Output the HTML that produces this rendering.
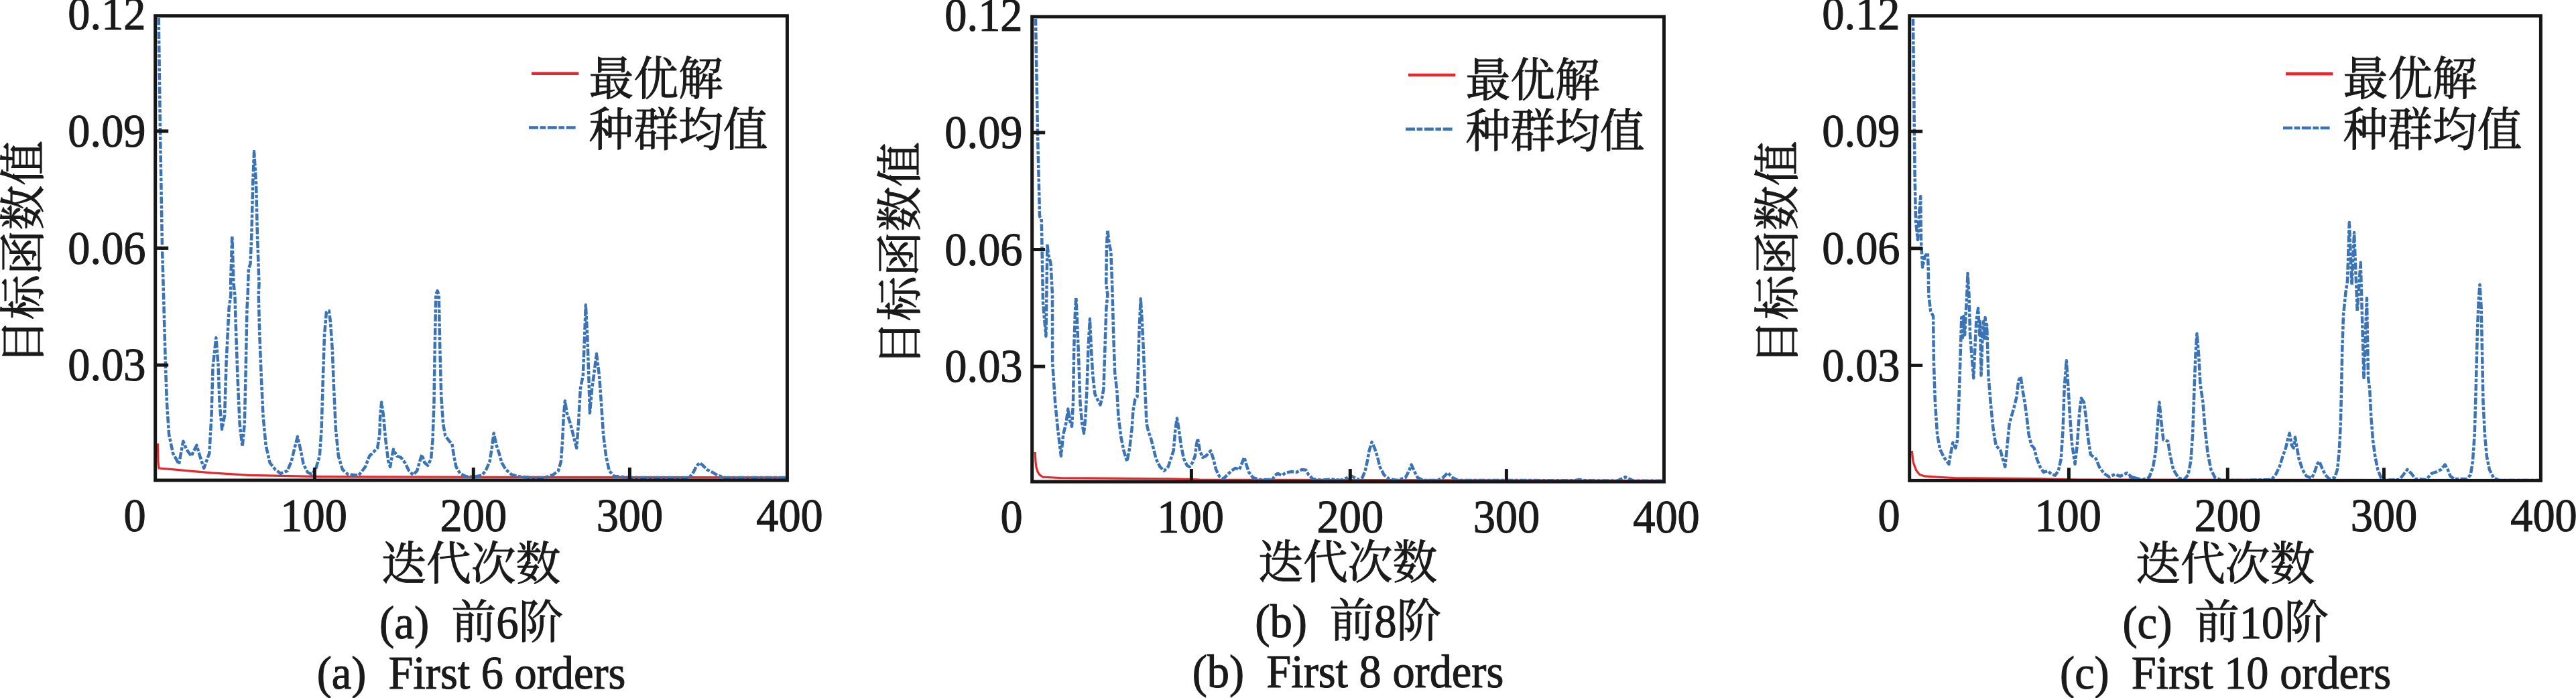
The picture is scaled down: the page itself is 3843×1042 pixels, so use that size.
<!DOCTYPE html>
<html lang="zh"><head><meta charset="utf-8"><title>迭代曲线</title>
<style>
html,body{margin:0;padding:0;background:#fff;}
body{width:3843px;height:1042px;overflow:hidden;}
svg{display:block;}
text{font-family:"Liberation Serif", "Noto Serif CJK SC", serif;fill:#1a1a1a;stroke:#1a1a1a;stroke-width:1.1px;stroke-linejoin:round;}
.t{font-size:65px;}
.c{font-size:65px;}
.fr{fill:none;stroke:#161616;stroke-width:5;}
.tk{stroke:#161616;stroke-width:5;}
.red{fill:none;stroke:#e5282c;stroke-width:3.2;stroke-linejoin:round;}
.blue{fill:none;stroke:#3a74b6;stroke-width:4.5;stroke-linejoin:round;stroke-dasharray:10.5 2.5 5 2.5;}
</style></head><body>
<svg width="3843" height="1042" viewBox="0 0 3843 1042">
<rect width="3843" height="1042" fill="#fff"/>

<g transform="translate(0.0,0.0)">
<path class="red" d="M235.3 662.0 L236.0 690.0 L237.0 699.0 L270.0 701.8 L315.0 705.8 L371.0 709.3 L432.0 710.7 L468.0 711.3 L553.0 711.9 L750.0 712.3 L1172.0 712.8"/>
<path class="blue" d="M236.7 27.0 L239.0 195.0 L242.0 370.0 L244.0 440.0 L246.9 544.3 L248.9 600.5 L252.1 648.7 L258.1 676.8 L266.9 692.8 L273.3 658.7 L278.2 670.8 L285.4 680.8 L293.4 664.7 L298.2 680.8 L304.2 698.9 L312.3 676.8 L315.5 620.6 L317.5 548.4 L322.3 504.2 L325.5 544.3 L327.5 600.5 L331.1 640.7 L335.1 620.6 L337.6 540.3 L341.6 460.1 L344.4 440.0 L344.1 423.6 L346.3 352.1 L348.5 423.6 L350.4 440.0 L351.6 480.1 L354.4 560.4 L357.6 632.6 L361.6 666.8 L364.8 632.6 L366.5 560.4 L368.5 460.1 L369.7 440.0 L370.1 423.6 L370.9 401.3 L373.5 393.8 L375.4 349.1 L377.2 274.5 L379.1 226.1 L382.1 274.5 L383.9 349.1 L386.5 423.6 L385.7 440.0 L387.3 500.2 L389.7 560.4 L392.5 620.6 L396.6 664.7 L402.6 690.8 L410.6 700.9 L418.6 706.9 L428.7 702.9 L434.7 688.8 L439.5 668.8 L443.9 651.9 L448.7 672.8 L452.7 692.8 L458.8 704.9 L464.8 708.1 L470.8 700.9 L476.8 680.8 L479.6 640.7 L482.0 560.4 L484.0 500.2 L486.9 466.1 L490.9 464.1 L492.9 480.1 L495.7 520.3 L498.1 580.5 L500.9 640.7 L504.9 680.8 L510.9 700.9 L519.0 708.1 L535.0 709.7 L545.0 696.9 L551.1 680.8 L557.1 674.8 L563.1 668.8 L566.3 648.7 L567.2 620.6 L569.2 600.5 L572.0 620.6 L575.3 656.7 L579.3 688.8 L582.1 696.9 L584.9 680.8 L586.9 670.8 L592.1 680.8 L598.1 682.8 L604.1 690.8 L610.2 702.9 L616.2 708.9 L622.2 702.9 L626.2 688.8 L629.4 678.8 L633.4 690.8 L638.3 694.8 L643.1 684.8 L645.5 656.7 L647.5 600.5 L648.7 520.3 L650.3 440.0 L652.5 434.0 L654.7 440.0 L656.3 520.3 L658.3 592.5 L661.1 632.6 L664.3 650.7 L670.4 658.7 L674.4 662.7 L677.2 680.8 L680.4 696.9 L686.4 706.9 L694.4 710.9 L706.5 712.1 L718.5 709.7 L724.5 702.9 L730.6 688.8 L733.8 668.8 L736.6 646.7 L740.6 664.7 L744.6 676.8 L748.6 690.8 L754.6 700.9 L762.7 708.1 L772.7 711.3 L792.8 712.9 L812.8 712.9 L824.9 708.9 L832.9 702.9 L836.9 688.8 L838.9 660.7 L840.9 620.6 L842.9 598.5 L845.7 616.6 L851.0 632.6 L857.0 656.7 L860.2 668.8 L863.0 632.6 L865.8 580.5 L869.8 560.4 L872.2 500.2 L873.8 455.3 L876.2 500.2 L878.3 560.4 L879.9 616.6 L883.1 580.5 L885.9 560.4 L889.9 528.3 L894.0 560.4 L896.9 600.5 L900.1 648.7 L904.1 680.8 L908.9 702.9 L916.1 710.9 L940.2 712.9 L1028.5 712.9 L1034.5 704.9 L1038.5 696.9 L1043.7 690.8 L1048.6 694.8 L1054.6 700.9 L1062.6 704.9 L1070.6 709.7 L1080.7 712.9 L1171.0 712.9"/>
<rect class="fr" x="231.7" y="23.7" width="942.7" height="693.3"/>
<text transform="translate(217.5,44.4) scale(0.962,1)" font-size="69" text-anchor="end" xml:space="preserve">0.12</text>
<line class="tk" x1="231.7" y1="195.8" x2="251.2" y2="195.8"/>
<text transform="translate(217.5,219.0) scale(0.962,1)" font-size="69" text-anchor="end" xml:space="preserve">0.09</text>
<line class="tk" x1="231.7" y1="370.4" x2="251.2" y2="370.4"/>
<text transform="translate(217.5,393.6) scale(0.962,1)" font-size="69" text-anchor="end" xml:space="preserve">0.06</text>
<line class="tk" x1="231.7" y1="545.0" x2="251.2" y2="545.0"/>
<text transform="translate(217.5,568.2) scale(0.962,1)" font-size="69" text-anchor="end" xml:space="preserve">0.03</text>
<text transform="translate(201.0,792.6) scale(0.962,1)" font-size="69" text-anchor="middle" xml:space="preserve">0</text>
<line class="tk" x1="469.4" y1="717.0" x2="469.4" y2="698.0"/>
<text transform="translate(468.1,792.6) scale(0.962,1)" font-size="69" text-anchor="middle" xml:space="preserve">100</text>
<line class="tk" x1="706.3" y1="717.0" x2="706.3" y2="698.0"/>
<text transform="translate(706.3,792.6) scale(0.962,1)" font-size="69" text-anchor="middle" xml:space="preserve">200</text>
<line class="tk" x1="939.4" y1="717.0" x2="939.4" y2="698.0"/>
<text transform="translate(939.4,792.6) scale(0.962,1)" font-size="69" text-anchor="middle" xml:space="preserve">300</text>
<text transform="translate(1178.0,792.6) scale(0.962,1)" font-size="69" text-anchor="middle" xml:space="preserve">400</text>
<text transform="translate(59.0,376.9) rotate(-90) scale(0.968,1)" font-size="69" text-anchor="middle" xml:space="preserve">目标函数值</text>
<text transform="translate(702.8,866.2) scale(0.968,1)" font-size="69" text-anchor="middle" xml:space="preserve">迭代次数</text>
<text transform="translate(703.3,952.8) scale(0.968,1)" font-size="69" text-anchor="middle" xml:space="preserve">(a)  前6阶</text>
<text transform="translate(703.0,1027.9) scale(0.962,1)" font-size="69" text-anchor="middle" xml:space="preserve">(a)  First 6 orders</text>
<line x1="793" y1="109.8" x2="863.3" y2="109.8" stroke="#e5282c" stroke-width="4.5"/>
<line x1="789" y1="190.6" x2="860" y2="190.6" stroke="#3a74b6" stroke-width="4.5" stroke-dasharray="14 2.6 8.6 2.6"/>
<text transform="translate(878.5,141.5) scale(0.968,1)" font-size="69" text-anchor="start" xml:space="preserve">最优解</text>
<text transform="translate(878.5,218.0) scale(0.968,1)" font-size="69" text-anchor="start" xml:space="preserve">种群均值</text>
</g>
<g transform="translate(1308.0,2.1)">
<path class="red" d="M236.2 672.9 L237.0 687.9 L238.1 695.9 L240.0 701.9 L242.6 706.3 L247.8 710.1 L273.6 711.4 L351.0 712.1 L441.0 712.7 L482.0 713.9 L1171.0 715.4"/>
<path class="blue" d="M237.0 25.9 L240.0 197.9 L242.5 297.9 L243.0 320.9 L245.6 323.9 L246.0 337.9 L248.0 449.9 L252.4 499.9 L253.5 427.9 L254.4 362.4 L256.0 377.9 L259.5 390.9 L262.0 437.9 L262.1 538.2 L266.1 598.4 L270.1 638.6 L274.9 678.7 L278.2 646.6 L282.2 630.5 L285.4 608.5 L288.2 626.5 L291.0 634.6 L293.0 598.4 L294.2 518.2 L296.2 458.0 L297.4 441.9 L299.0 478.0 L301.4 538.2 L303.4 598.4 L306.3 630.5 L309.1 644.6 L311.5 618.5 L313.5 578.4 L315.5 518.2 L317.9 474.0 L319.9 518.2 L322.3 558.3 L325.5 586.4 L330.3 596.4 L333.5 602.4 L336.4 590.4 L338.4 578.4 L340.4 518.2 L342.4 458.0 L344.4 437.9 L342.2 421.5 L342.9 365.6 L344.4 341.4 L346.7 361.9 L349.3 373.1 L351.1 421.5 L351.6 437.9 L353.2 498.1 L355.2 554.3 L358.4 582.4 L360.4 618.5 L364.4 650.6 L368.5 670.7 L373.3 686.7 L377.3 666.7 L380.5 638.6 L382.5 610.5 L385.3 594.4 L388.5 590.4 L389.7 558.3 L391.3 498.1 L393.7 443.9 L395.8 478.0 L397.8 518.2 L400.2 578.4 L402.6 630.5 L405.4 642.6 L408.6 650.6 L412.6 666.7 L416.6 682.7 L422.6 694.8 L428.7 700.8 L434.7 694.8 L438.7 682.7 L442.7 670.7 L445.5 638.6 L447.9 622.5 L450.7 638.6 L453.9 662.6 L458.0 682.7 L462.8 692.7 L466.8 694.8 L470.8 688.7 L474.8 678.7 L476.8 662.6 L478.8 652.6 L482.0 670.7 L486.1 680.7 L490.9 678.7 L494.9 674.7 L498.1 670.7 L502.1 682.7 L506.1 698.8 L510.9 708.8 L517.0 712.8 L523.0 706.8 L529.0 700.8 L535.0 696.8 L541.0 698.8 L545.0 688.7 L548.3 680.7 L551.1 690.7 L555.1 702.8 L561.1 710.8 L571.1 714.0 L590.1 714.0 L594.1 707.6 L598.1 704.8 L604.1 707.6 L610.2 703.6 L618.2 702.0 L626.2 702.8 L634.2 698.8 L640.3 699.6 L644.3 706.8 L650.3 712.8 L664.3 714.8 L676.4 713.2 L692.4 714.8 L702.5 710.8 L706.5 707.6 L712.5 710.8 L718.5 714.0 L724.5 710.8 L728.6 700.8 L731.8 686.7 L734.6 670.7 L738.6 657.8 L742.6 666.7 L746.6 678.7 L750.6 694.8 L756.7 706.8 L764.7 713.2 L776.7 714.8 L788.8 710.8 L794.0 700.8 L797.6 691.5 L801.6 700.8 L806.8 710.8 L814.8 714.8 L836.9 714.8 L844.9 710.8 L851.8 703.6 L859.0 710.8 L867.0 714.8 L920.0 714.8 L1040.5 715.2 L1048.6 714.0 L1056.6 715.2 L1104.7 715.6 L1110.8 712.8 L1116.8 710.0 L1122.8 712.8 L1128.8 715.6 L1171.0 715.6"/>
<rect class="fr" x="231.7" y="22.8" width="942.7" height="694.2"/>
<text transform="translate(217.5,43.5) scale(0.962,1)" font-size="69" text-anchor="end" xml:space="preserve">0.12</text>
<line class="tk" x1="231.7" y1="195.8" x2="251.2" y2="195.8"/>
<text transform="translate(217.5,219.0) scale(0.962,1)" font-size="69" text-anchor="end" xml:space="preserve">0.09</text>
<line class="tk" x1="231.7" y1="370.4" x2="251.2" y2="370.4"/>
<text transform="translate(217.5,393.6) scale(0.962,1)" font-size="69" text-anchor="end" xml:space="preserve">0.06</text>
<line class="tk" x1="231.7" y1="545.0" x2="251.2" y2="545.0"/>
<text transform="translate(217.5,568.2) scale(0.962,1)" font-size="69" text-anchor="end" xml:space="preserve">0.03</text>
<text transform="translate(201.0,792.6) scale(0.962,1)" font-size="69" text-anchor="middle" xml:space="preserve">0</text>
<line class="tk" x1="469.4" y1="717.0" x2="469.4" y2="698.0"/>
<text transform="translate(468.1,792.6) scale(0.962,1)" font-size="69" text-anchor="middle" xml:space="preserve">100</text>
<line class="tk" x1="706.3" y1="717.0" x2="706.3" y2="698.0"/>
<text transform="translate(706.3,792.6) scale(0.962,1)" font-size="69" text-anchor="middle" xml:space="preserve">200</text>
<line class="tk" x1="939.4" y1="717.0" x2="939.4" y2="698.0"/>
<text transform="translate(939.4,792.6) scale(0.962,1)" font-size="69" text-anchor="middle" xml:space="preserve">300</text>
<text transform="translate(1178.0,792.6) scale(0.962,1)" font-size="69" text-anchor="middle" xml:space="preserve">400</text>
<text transform="translate(59.0,376.9) rotate(-90) scale(0.968,1)" font-size="69" text-anchor="middle" xml:space="preserve">目标函数值</text>
<text transform="translate(702.8,862.3) scale(0.968,1)" font-size="69" text-anchor="middle" xml:space="preserve">迭代次数</text>
<text transform="translate(703.3,948.9) scale(0.968,1)" font-size="69" text-anchor="middle" xml:space="preserve">(b)  前8阶</text>
<text transform="translate(703.0,1024.0) scale(0.962,1)" font-size="69" text-anchor="middle" xml:space="preserve">(b)  First 8 orders</text>
<line x1="793" y1="109.8" x2="863.3" y2="109.8" stroke="#e5282c" stroke-width="4.5"/>
<line x1="789" y1="190.6" x2="860" y2="190.6" stroke="#3a74b6" stroke-width="4.5" stroke-dasharray="14 2.6 8.6 2.6"/>
<text transform="translate(878.5,141.5) scale(0.968,1)" font-size="69" text-anchor="start" xml:space="preserve">最优解</text>
<text transform="translate(878.5,218.0) scale(0.968,1)" font-size="69" text-anchor="start" xml:space="preserve">种群均值</text>
</g>
<g transform="translate(2617.0,0.4)">
<path class="red" d="M235.4 672.6 L236.5 684.6 L237.8 691.2 L241.6 701.5 L246.8 708.0 L254.5 710.5 L272.6 711.8 L298.4 713.1 L350.0 713.8 L427.0 714.3 L483.0 715.6 L1171.0 716.6"/>
<path class="blue" d="M237.0 27.6 L239.6 259.6 L241.0 329.6 L244.0 357.6 L246.0 319.6 L248.2 292.6 L249.0 359.6 L251.1 398.6 L254.5 382.6 L258.8 377.2 L259.7 399.6 L260.3 439.6 L263.1 463.7 L267.1 471.7 L267.9 539.9 L269.9 600.1 L273.1 648.3 L277.2 670.4 L283.2 682.4 L290.4 692.4 L293.2 676.4 L296.4 660.3 L300.4 668.4 L303.2 656.3 L305.3 600.1 L307.3 539.9 L308.5 499.8 L309.3 473.7 L310.9 503.8 L312.5 471.7 L314.1 499.8 L315.7 467.7 L317.3 439.6 L318.5 407.6 L320.5 439.6 L322.1 499.8 L325.3 539.9 L327.3 564.0 L329.3 519.9 L331.3 479.7 L334.1 459.7 L336.2 499.8 L337.0 479.7 L337.8 519.9 L338.6 560.0 L340.6 499.8 L342.2 479.7 L343.0 507.8 L344.6 473.7 L346.2 503.8 L347.0 483.7 L348.2 519.9 L349.4 560.0 L352.6 600.1 L356.6 640.3 L360.6 664.3 L367.5 672.4 L370.7 684.4 L374.3 696.5 L377.5 664.3 L380.7 632.2 L383.5 622.2 L387.5 608.2 L391.5 592.1 L394.3 568.0 L397.6 562.0 L400.8 584.1 L403.6 600.1 L406.4 620.2 L409.6 648.3 L413.6 664.3 L417.6 668.4 L421.6 684.4 L426.5 696.5 L431.7 704.5 L437.7 702.5 L443.7 707.7 L448.9 709.3 L453.7 702.5 L457.8 684.4 L460.6 640.3 L462.6 580.1 L465.8 537.9 L468.6 580.1 L471.0 620.2 L473.8 660.3 L478.6 692.4 L481.8 664.3 L485.1 616.2 L487.9 594.1 L491.9 600.1 L494.7 620.2 L497.9 652.3 L501.9 678.4 L509.9 684.4 L514.7 696.5 L522.0 706.5 L530.0 711.7 L538.0 707.7 L546.1 710.5 L556.1 705.7 L564.1 712.5 L574.1 714.5 L559.0 710.5 L567.0 714.5 L579.1 715.7 L589.1 712.5 L595.1 696.5 L599.1 672.4 L601.9 632.2 L604.4 600.1 L607.2 628.2 L610.4 656.3 L617.2 658.3 L620.0 676.4 L625.2 700.5 L633.2 713.3 L641.3 715.7 L647.3 708.5 L651.3 688.4 L654.1 648.3 L656.5 580.1 L658.5 527.9 L660.5 497.8 L663.3 531.9 L665.4 572.0 L669.4 600.1 L672.6 640.3 L676.6 676.4 L681.4 700.5 L687.4 712.5 L697.5 716.5 L735.6 716.5 L771.7 715.7 L777.7 708.5 L783.7 696.5 L788.6 680.4 L793.0 668.4 L795.8 656.3 L798.6 646.3 L801.8 664.3 L804.6 668.4 L807.0 652.3 L809.8 668.4 L812.6 684.4 L817.9 700.5 L823.9 710.5 L831.9 713.3 L836.7 702.5 L839.9 692.4 L843.1 688.4 L847.2 698.5 L852.0 708.5 L858.0 714.5 L866.0 712.5 L870.0 700.5 L872.8 672.4 L874.8 632.2 L876.1 580.1 L877.3 519.9 L879.0 469.6 L882.5 435.6 L885.0 419.6 L887.8 331.6 L891.5 424.6 L895.1 346.6 L899.7 464.1 L904.7 391.6 L909.5 563.6 L913.9 444.6 L916.0 563.6 L918.2 580.1 L920.2 620.2 L923.0 656.3 L926.2 680.4 L930.2 700.5 L935.0 712.5 L940.2 716.5 L962.3 715.7 L968.3 708.5 L974.4 700.5 L980.4 706.5 L986.4 714.5 L1002.5 715.7 L1010.5 706.5 L1018.5 703.7 L1024.5 700.5 L1030.5 693.2 L1034.6 700.5 L1038.6 710.5 L1044.6 714.5 L1062.7 714.5 L1068.7 708.5 L1071.9 688.4 L1074.7 648.3 L1076.7 580.1 L1078.7 499.8 L1080.7 447.6 L1082.5 424.6 L1084.7 459.7 L1085.9 519.9 L1087.5 600.1 L1089.9 648.3 L1092.8 680.4 L1096.8 700.5 L1102.8 712.5 L1110.8 716.5 L1173.0 716.5"/>
<rect class="fr" x="231.7" y="23.3" width="941.7" height="693.7"/>
<text transform="translate(217.5,44.0) scale(0.962,1)" font-size="69" text-anchor="end" xml:space="preserve">0.12</text>
<line class="tk" x1="231.7" y1="195.8" x2="251.2" y2="195.8"/>
<text transform="translate(217.5,219.0) scale(0.962,1)" font-size="69" text-anchor="end" xml:space="preserve">0.09</text>
<line class="tk" x1="231.7" y1="370.4" x2="251.2" y2="370.4"/>
<text transform="translate(217.5,393.6) scale(0.962,1)" font-size="69" text-anchor="end" xml:space="preserve">0.06</text>
<line class="tk" x1="231.7" y1="545.0" x2="251.2" y2="545.0"/>
<text transform="translate(217.5,568.2) scale(0.962,1)" font-size="69" text-anchor="end" xml:space="preserve">0.03</text>
<text transform="translate(201.0,792.6) scale(0.962,1)" font-size="69" text-anchor="middle" xml:space="preserve">0</text>
<line class="tk" x1="469.4" y1="717.0" x2="469.4" y2="698.0"/>
<text transform="translate(468.1,792.6) scale(0.962,1)" font-size="69" text-anchor="middle" xml:space="preserve">100</text>
<line class="tk" x1="706.3" y1="717.0" x2="706.3" y2="698.0"/>
<text transform="translate(706.3,792.6) scale(0.962,1)" font-size="69" text-anchor="middle" xml:space="preserve">200</text>
<line class="tk" x1="939.4" y1="717.0" x2="939.4" y2="698.0"/>
<text transform="translate(939.4,792.6) scale(0.962,1)" font-size="69" text-anchor="middle" xml:space="preserve">300</text>
<text transform="translate(1178.0,792.6) scale(0.962,1)" font-size="69" text-anchor="middle" xml:space="preserve">400</text>
<text transform="translate(59.0,376.9) rotate(-90) scale(0.968,1)" font-size="69" text-anchor="middle" xml:space="preserve">目标函数值</text>
<text transform="translate(702.8,865.8) scale(0.968,1)" font-size="69" text-anchor="middle" xml:space="preserve">迭代次数</text>
<text transform="translate(703.3,952.4) scale(0.968,1)" font-size="69" text-anchor="middle" xml:space="preserve">(c)  前10阶</text>
<text transform="translate(703.0,1027.5) scale(0.962,1)" font-size="69" text-anchor="middle" xml:space="preserve">(c)  First 10 orders</text>
<line x1="793" y1="109.8" x2="863.3" y2="109.8" stroke="#e5282c" stroke-width="4.5"/>
<line x1="789" y1="190.6" x2="860" y2="190.6" stroke="#3a74b6" stroke-width="4.5" stroke-dasharray="14 2.6 8.6 2.6"/>
<text transform="translate(878.5,141.5) scale(0.968,1)" font-size="69" text-anchor="start" xml:space="preserve">最优解</text>
<text transform="translate(878.5,218.0) scale(0.968,1)" font-size="69" text-anchor="start" xml:space="preserve">种群均值</text>
</g>
</svg></body></html>
